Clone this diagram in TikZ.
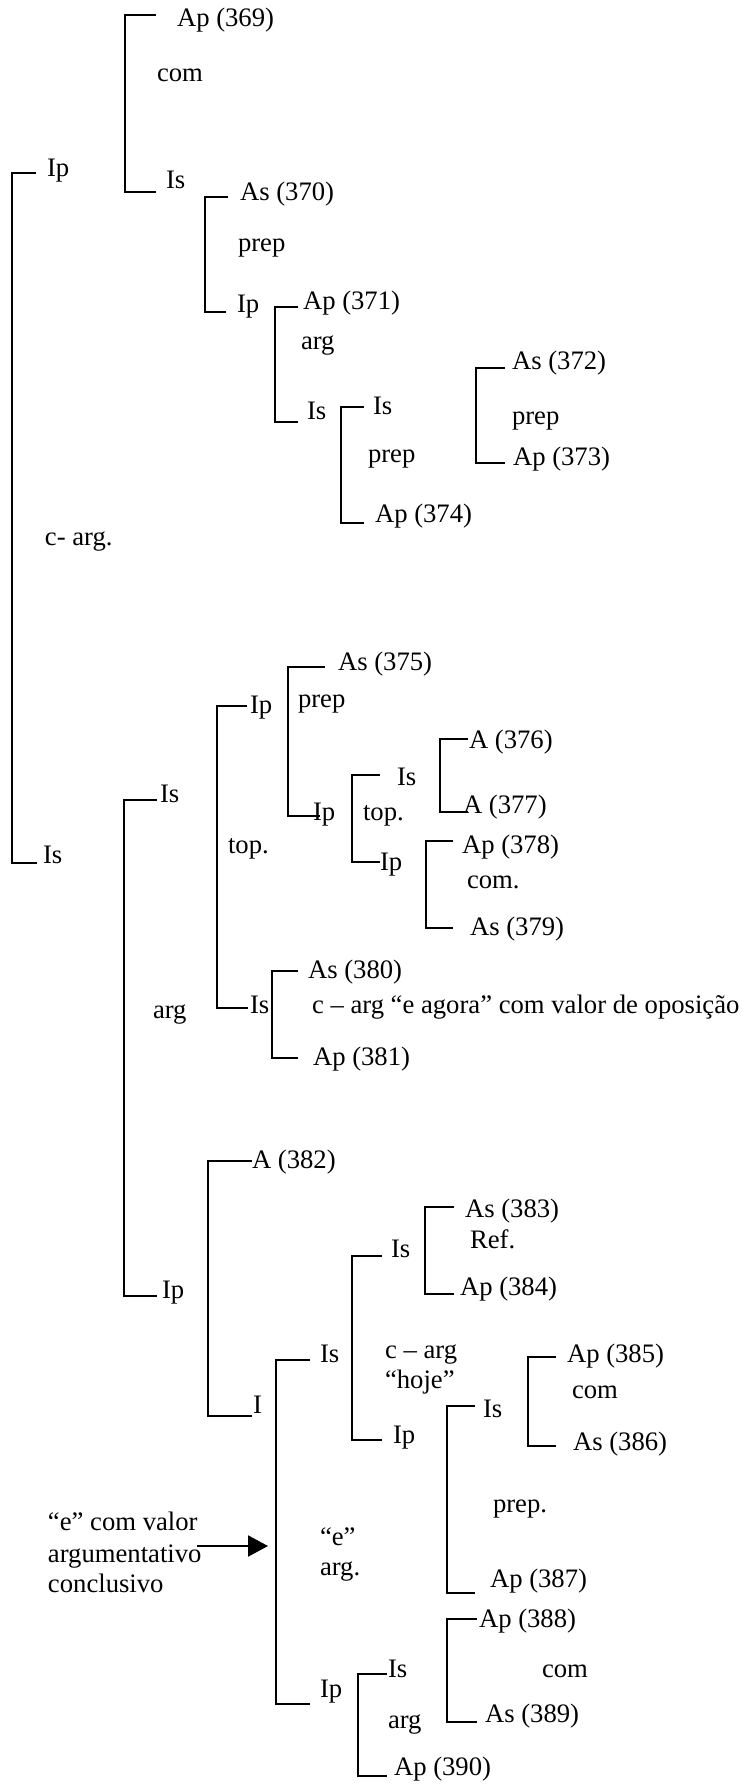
\documentclass[tikz,border=0pt]{standalone}
\usepackage{fontspec}
\setmainfont{Liberation Serif}
\usetikzlibrary{arrows.meta}
\tikzset{
  lbl/.style={anchor=base west, inner sep=0pt, outer sep=0pt, font=\fontsize{12}{14}\selectfont},
  brline/.style={line width=0.8pt, line cap=butt, line join=miter},
  arr/.style={line width=0.8pt, -{Triangle[length=9pt,width=9.5pt]}}
}
\newcommand\brk[6]{%
  \coordinate (#1a) at (#5,#3);
  \coordinate (#1b) at (#2,#3);
  \coordinate (#1c) at (#2,#4);
  \coordinate (#1d) at (#6,#4);
  \draw[brline] (#1a) -- (#1b) -- (#1c) -- (#1d);}
\begin{document}
\begin{tikzpicture}[x=0.45pt,y=-0.45pt]
\useasboundingbox (0,0) rectangle (748,1785);
% brackets
\brk{b1}{125}{15}{192}{156}{156}
\brk{b0}{12}{173}{863}{36}{37}
\brk{b2}{205}{197}{312}{228}{226}
\brk{b3}{275}{307}{422}{298}{298}
\brk{b4}{341}{407}{523}{364}{364}
\brk{b5}{476}{368}{463}{505}{505}
\brk{b6}{124}{800}{1296}{157}{157}
\brk{b7}{217}{706}{1008}{247}{248}
\brk{b8}{288}{667}{816}{325}{320}
\brk{b9}{352}{775}{862}{380}{380}
\brk{b10}{440}{739}{812}{468}{468}
\brk{b11}{426}{841}{928}{453}{453}
\brk{b12}{272}{971}{1058}{298}{298}
\brk{b13}{208}{1161}{1416}{252}{252}
\brk{b14}{276}{1360}{1704}{310}{310}
\brk{b15}{352}{1256}{1440}{382}{382}
\brk{b16}{425}{1207}{1294}{454}{454}
\brk{b17}{528}{1357}{1446}{556}{556}
\brk{b18}{447}{1406}{1593}{475}{475}
\brk{b19}{358}{1674}{1776}{387}{387}
\brk{b20}{447}{1619}{1722}{477}{477}
% labels
\node[lbl] (t1) at (177,27) {Ap (369)};
\node[lbl] (t2) at (157,82) {com};
\node[lbl] (t3) at (166,189) {Is};
\node[lbl] (t4) at (47,177) {Ip};
\node[lbl] (t5) at (240,201) {As (370)};
\node[lbl] (t6) at (238,252) {prep};
\node[lbl] (t7) at (237,313) {Ip};
\node[lbl] (t8) at (303,310) {Ap (371)};
\node[lbl] (t9) at (301,350) {arg};
\node[lbl] (t10) at (307,420) {Is};
\node[lbl] (t11) at (373,415) {Is};
\node[lbl] (t12) at (368,462) {prep};
\node[lbl] (t13) at (375,523) {Ap (374)};
\node[lbl] (t14) at (512,370) {As (372)};
\node[lbl] (t15) at (512,425) {prep};
\node[lbl] (t16) at (513,465) {Ap (373)};
\node[lbl] (t17) at (45,545) {c- arg.};
\node[lbl] (t18) at (43,863) {Is};
\node[lbl] (t19) at (338,670) {As (375)};
\node[lbl] (t20) at (298,707) {prep};
\node[lbl] (t21) at (250,713) {Ip};
\node[lbl] (t22) at (160,802) {Is};
\node[lbl] (t23) at (228,853) {top.};
\node[lbl] (t24) at (313,820) {Ip};
\node[lbl] (t25) at (397,785) {Is};
\node[lbl] (t26) at (363,820) {top.};
\node[lbl] (t27) at (380,870) {Ip};
\node[lbl] (t28) at (469,748) {A (376)};
\node[lbl] (t29) at (463,813) {A (377)};
\node[lbl] (t30) at (462,853) {Ap (378)};
\node[lbl] (t31) at (467,888) {com.};
\node[lbl] (t32) at (470,935) {As (379)};
\node[lbl] (t33) at (250,1013) {Is};
\node[lbl] (t34) at (308,978) {As (380)};
\node[lbl] (t35) at (312,1013) {c – arg “e agora” com valor de oposição};
\node[lbl] (t36) at (313,1065) {Ap (381)};
\node[lbl] (t37) at (153,1018) {arg};
\node[lbl] (t38) at (162,1298) {Ip};
\node[lbl] (t39) at (252,1168) {A (382)};
\node[lbl] (t40) at (253,1413) {I};
\node[lbl] (t41) at (391,1257) {Is};
\node[lbl] (t42) at (465,1217) {As (383)};
\node[lbl] (t43) at (470,1248) {Ref.};
\node[lbl] (t44) at (460,1295) {Ap (384)};
\node[lbl] (t45) at (320,1362) {Is};
\node[lbl] (t46) at (385,1358) {c – arg};
\node[lbl] (t47) at (385,1388) {“hoje”};
\node[lbl] (t48) at (393,1443) {Ip};
\node[lbl] (t49) at (483,1417) {Is};
\node[lbl] (t50) at (567,1362) {Ap (385)};
\node[lbl] (t51) at (572,1398) {com};
\node[lbl] (t52) at (573,1450) {As (386)};
\node[lbl] (t53) at (493,1512) {prep.};
\node[lbl] (t54) at (490,1587) {Ap (387)};
\node[lbl] (t55) at (320,1545) {“e”};
\node[lbl] (t56) at (320,1575) {arg.};
\node[lbl] (t57a) at (48,1530) {“e” com valor};
\node[lbl] (t57b) at (48,1562) {argumentativo};
\node[lbl] (t57c) at (48,1592) {conclusivo};
\node[lbl] (t58) at (320,1697) {Ip};
\node[lbl] (t59) at (388,1677) {Is};
\node[lbl] (t60) at (388,1728) {arg};
\node[lbl] (t61) at (394,1775) {Ap (390)};
\node[lbl] (t62) at (479,1627) {Ap (388)};
\node[lbl] (t63) at (542,1677) {com};
\node[lbl] (t64) at (485,1722) {As (389)};
% arrow
\coordinate (arrS) at (197,1546);
\coordinate (arrE) at (268,1546);
\draw[arr] (arrS) -- (arrE);
\end{tikzpicture}
\end{document}
